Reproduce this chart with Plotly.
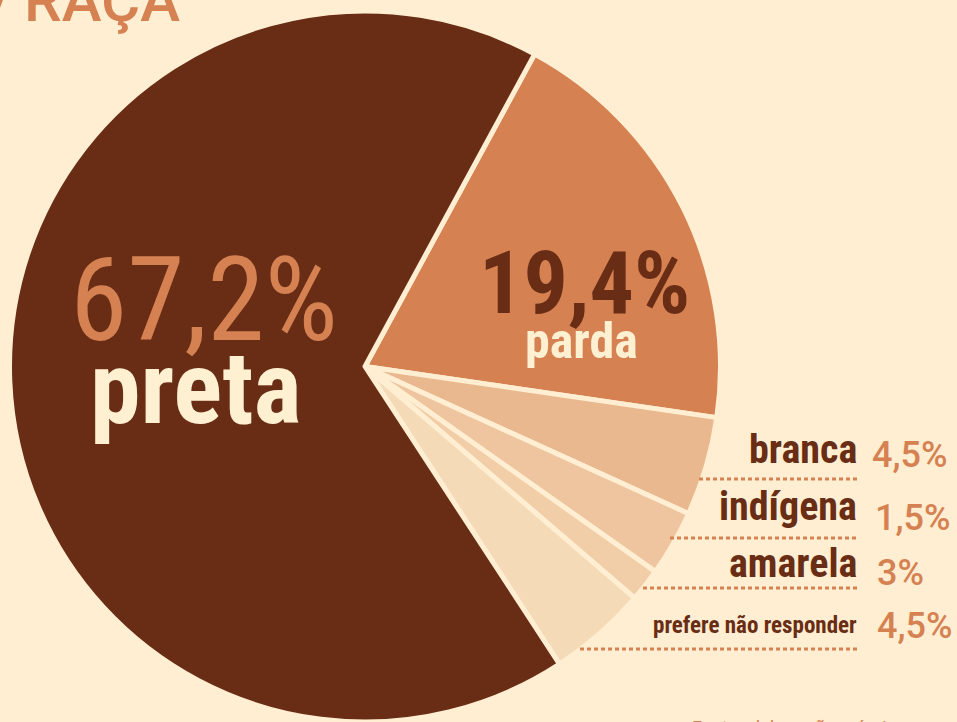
import plotly.graph_objects as go

# dados
categorias = ["parda", "branca", "amarela", "indígena", "prefere não responder", "preta"]
valores = [19.4, 4.5, 3, 1.5, 4.5, 67.2]
cores = ["#D58152", "#E9B88F", "#EEC59E", "#F1CDA8", "#F5DAB8", "#682D14"]

# rotulos laterais (fatias pequenas)
lado_nomes = ["branca", "indígena", "amarela", "prefere não responder"]
lado_valores = [4.5, 1.5, 3, 4.5]

FUNDO = "#FFEED1"
MARROM = "#682D14"
LARANJA = "#D58152"
CREME = "#FFF0D2"

W, H = 957, 722


def px(x):
    return x / W


def py(y):
    return 1 - y / H


def pct(v):
    return f"{v:g}%".replace(".", ",")


fig = go.Figure()
fig.add_trace(go.Pie(
    labels=categorias,
    values=valores,
    sort=False,
    direction="clockwise",
    rotation=28.5,
    marker=dict(colors=cores, line=dict(color=FUNDO, width=5)),
    textinfo="none",
    hoverinfo="label+percent",
    showlegend=False,
    domain=dict(x=[0.0099, 0.7529], y=[0, 1 - 11 / H]),
))

narrow = "Roboto Condensed, DejaVu Sans Condensed, Roboto"
anns = []

# titulo (cortado no topo e a esquerda)
anns.append(dict(x=px(182), y=py(1), xanchor="right", yanchor="middle",
                 text="COR/\u2009RAÇA", showarrow=False,
                 font=dict(family="Roboto", size=60, color=LARANJA, weight=500)))

# preta
anns.append(dict(x=px(204), y=py(300), text=pct(valores[5]), showarrow=False,
                 xanchor="center", yanchor="middle",
                 font=dict(family=narrow, size=116, color=LARANJA)))
anns.append(dict(x=px(195), y=py(388), text=categorias[5], showarrow=False,
                 xanchor="center", yanchor="middle",
                 font=dict(family=narrow, size=102, color=CREME, weight="bold")))

# parda
anns.append(dict(x=px(584), y=py(283), text=pct(valores[0]), showarrow=False,
                 xanchor="center", yanchor="middle",
                 font=dict(family=narrow, size=88, color=MARROM, weight="bold")))
anns.append(dict(x=px(581), y=py(341), text=categorias[0], showarrow=False,
                 xanchor="center", yanchor="middle",
                 font=dict(family=narrow, size=50, color=CREME, weight="bold")))

# rotulos a direita
base_y = [463, 520, 577, 633]
pct_y = [467, 530, 585, 638]
pct_x = [870, 873, 875, 875]
linha_y = [479, 538, 588, 649]
linha_x0 = [699, 670, 643, 580]
tam = [40, 40, 40, 23]
for i, nome in enumerate(lado_nomes):
    anns.append(dict(x=px(859), y=py(base_y[i] - 0.345 * tam[i]), text=nome,
                     showarrow=False, xanchor="right", yanchor="middle",
                     font=dict(family=narrow, size=tam[i], color=MARROM, weight="bold")))
    anns.append(dict(x=px(pct_x[i]), y=py(pct_y[i] - 12), text=pct(lado_valores[i]),
                     showarrow=False, xanchor="left", yanchor="middle",
                     font=dict(family="Roboto", size=36, color=LARANJA, weight=500)))
    fig.add_shape(type="line", xref="paper", yref="paper",
                  x0=px(linha_x0[i]), x1=px(857), y0=py(linha_y[i]), y1=py(linha_y[i]),
                  line=dict(color=LARANJA, width=3, dash="4px,3px"))

# fonte (cortada embaixo)
anns.append(dict(x=px(690), y=py(715), text="Fonte: elaboração própria",
                 showarrow=False, xanchor="left", yanchor="top",
                 font=dict(family="Roboto", size=18, color=LARANJA)))

fig.update_layout(
    width=W, height=H,
    margin=dict(l=0, r=0, t=0, b=0),
    paper_bgcolor=FUNDO,
    plot_bgcolor=FUNDO,
    annotations=anns,
)

fig.write_html("out.html", config={"displayModeBar": False},
               post_script="document.body.style.margin='0';")
